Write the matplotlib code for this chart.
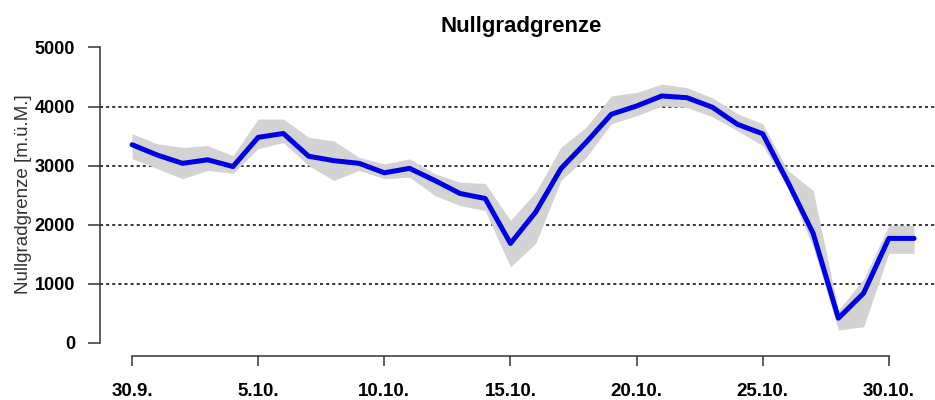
import matplotlib
matplotlib.use("Agg")
import matplotlib.pyplot as plt
import numpy as np

# Tage (Kategorien) 30.9. bis 31.10.
dates = ["30.9.", "1.10.", "2.10.", "3.10.", "4.10.", "5.10.", "6.10.", "7.10.",
         "8.10.", "9.10.", "10.10.", "11.10.", "12.10.", "13.10.", "14.10.", "15.10.",
         "16.10.", "17.10.", "18.10.", "19.10.", "20.10.", "21.10.", "22.10.", "23.10.",
         "24.10.", "25.10.", "26.10.", "27.10.", "28.10.", "29.10.", "30.10.", "31.10."]

# Nullgradgrenze (Mittel) und Streubereich, m.ü.M.
zero_line = [3355, 3180, 3040, 3100, 2985, 3480, 3545, 3160, 3085, 3040, 2880, 2955,
             2750, 2530, 2445, 1685, 2215, 2950, 3395, 3870, 4010, 4180, 4150, 3990,
             3700, 3540, 2720, 1855, 420, 843, 1770, 1770]
zero_upper = [3540, 3370, 3310, 3340, 3170, 3790, 3790, 3480, 3420, 3140, 3030, 3115,
              2865, 2720, 2700, 2075, 2550, 3310, 3650, 4180, 4240, 4380, 4320, 4150,
              3880, 3710, 2920, 2580, 556, 1080, 1990, 1990]
zero_lower = [3120, 2950, 2780, 2920, 2870, 3290, 3390, 3000, 2750, 2920, 2780, 2805,
              2495, 2325, 2240, 1285, 1685, 2750, 3140, 3710, 3845, 4010, 3985, 3830,
              3590, 3340, 2635, 1625, 220, 275, 1517, 1517]

tick_labels = ["30.9.", "5.10.", "10.10.", "15.10.", "20.10.", "25.10.", "30.10."]
y_ticks = [0, 1000, 2000, 3000, 4000, 5000]
grid_levels = [1000, 2000, 3000, 4000]

FONT = "Liberation Sans"
COLOR_LINE = "#0000e6"
COLOR_BAND = "#d3d3d3"
COLOR_AXIS = "#333333"


def main():
    fig = plt.figure(figsize=(9.35, 4.0), dpi=100)
    # Plotbereich in Pixeln: links 100, unten 356, oben 30 (R-artige Ränder)
    ax = fig.add_axes([100 / 935, 1 - 356 / 400, 835 / 935, 326 / 400])

    x = np.arange(len(dates))
    ax.fill_between(x, zero_lower, zero_upper, color=COLOR_BAND, linewidth=0, zorder=2)
    ax.plot(x, zero_line, color=COLOR_LINE, linewidth=3.6, solid_joinstyle="round",
            solid_capstyle="round", zorder=3)

    # gepunktete Hilfslinien
    for lvl in grid_levels:
        ax.axhline(lvl, color="black", linewidth=1.1, linestyle=(0, (2, 2)), zorder=1)

    ax.set_xlim(-1.27, 31.83)
    ax.set_ylim(-220, 5296)

    # Achsen im R-Stil: nur über den Tickbereich
    for side in ["top", "right"]:
        ax.spines[side].set_visible(False)
    ax.spines["left"].set_bounds(0, 5000)
    ax.spines["bottom"].set_bounds(0, 30)
    for side in ["left", "bottom"]:
        ax.spines[side].set_color(COLOR_AXIS)
        ax.spines[side].set_linewidth(1.1)

    tick_pos = [dates.index(t) for t in tick_labels]
    ax.set_xticks(tick_pos)
    ax.set_xticklabels(tick_labels, fontfamily=FONT, fontweight="bold", fontsize=13.5)
    ax.set_yticks(y_ticks)
    ax.set_yticklabels([str(v) for v in y_ticks], fontfamily=FONT, fontweight="bold",
                       fontsize=13)
    ax.tick_params(axis="y", length=9, width=1.1, color=COLOR_AXIS, pad=9)
    ax.tick_params(axis="x", length=7.5, width=1.1, color=COLOR_AXIS, pad=12)

    fig.text(521 / 935, 1 - 31.7 / 400, "Nullgradgrenze", ha="center", va="baseline",
             fontfamily=FONT, fontweight="bold", fontsize=16)
    fig.text(23.5 / 935, 1 - 194.5 / 400, "Nullgradgrenze [m.ü.M.]", rotation=90,
             ha="center", va="center", fontfamily=FONT, fontsize=13.5, color="#333333")

    fig.savefig("out.png", dpi=100, facecolor="white")
    plt.close(fig)


if __name__ == "__main__":
    main()
